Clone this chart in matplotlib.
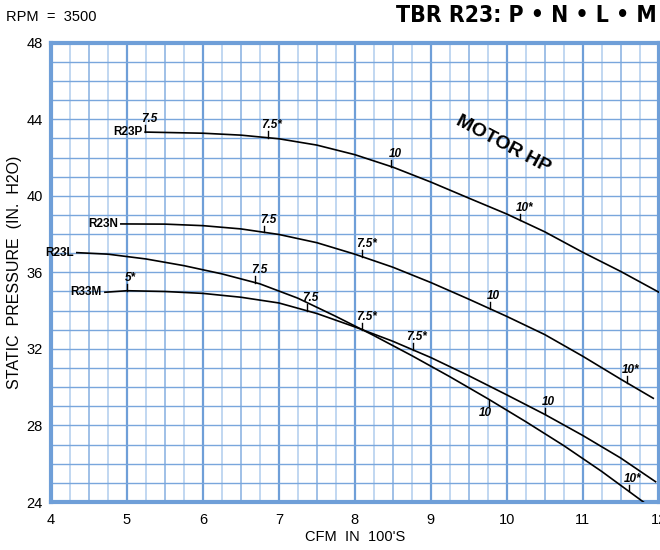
import matplotlib

matplotlib.use('Agg')
import matplotlib.pyplot as plt
import numpy as np

plt.rcParams['font.family'] = ['Liberation Sans', 'DejaVu Sans']

# fan curves (x = CFM in 100's, y = static pressure in. H2O)
p_x = [5.24, 6.0, 6.5, 7.0, 7.5, 8.0, 8.5, 9.0, 9.5, 10.0, 10.5, 11.0, 11.5, 12.0]
p_y = [43.33, 43.27, 43.17, 42.98, 42.65, 42.15, 41.5, 40.72, 39.88, 39.05, 38.12, 37.05, 36.05, 34.97]

n_x = [4.92, 5.5, 6.0, 6.5, 7.0, 7.5, 8.0, 8.5, 9.0, 9.5, 10.0, 10.5, 11.0, 11.5, 11.93]
n_y = [38.53, 38.52, 38.44, 38.27, 37.98, 37.55, 36.95, 36.27, 35.47, 34.6, 33.7, 32.75, 31.62, 30.42, 29.42]

l_x = [4.34, 4.75, 5.25, 5.75, 6.25, 6.75, 7.25, 7.75, 8.25, 8.75, 9.25, 9.75, 10.25, 10.75, 11.25, 11.8]
l_y = [37.03, 36.95, 36.7, 36.35, 35.92, 35.4, 34.65, 33.7, 32.7, 31.65, 30.55, 29.4, 28.2, 26.95, 25.6, 24.0]

m_x = [4.71, 5.0, 5.5, 6.0, 6.5, 7.0, 7.5, 8.0, 8.5, 9.0, 9.5, 10.0, 10.5, 11.0, 11.5, 11.96]
m_y = [34.96, 35.04, 35.0, 34.9, 34.7, 34.4, 33.85, 33.15, 32.4, 31.55, 30.6, 29.6, 28.58, 27.48, 26.3, 25.06]

curve_names = ["R23P", "R23N", "R23L", "R33M"]

# motor hp rating marks along each curve
p_marks = [(5.24, "7.5"), (6.86, "7.5*"), (8.48, "10"), (10.18, "10*")]
n_marks = [(6.81, "7.5"), (8.10, "7.5*"), (9.78, "10"), (11.58, "10*")]
l_marks = [(6.69, "7.5"), (8.10, "7.5*"), (9.77, "10"), (11.61, "10*")]
m_marks = [(5.0, "5*"), (7.37, "7.5"), (8.77, "7.5*"), (10.5, "10")]
below_marks = [("R23L", 9.77)]

x_ticks = [4, 5, 6, 7, 8, 9, 10, 11, 12]
y_ticks = [24, 28, 32, 36, 40, 44, 48]

grid_blue = '#6f9fd8'

fig = plt.figure(figsize=(6.6, 5.5), dpi=100)
ax = fig.add_axes([51 / 660, 1 - 502 / 550, 607.6 / 660, 459.3 / 550])
ax.set_xlim(4, 12)
ax.set_ylim(24, 48)

# graph paper grid
for xv in np.arange(4, 12.01, 0.25):
    if abs(xv - round(xv)) < 1e-6:
        ax.axvline(xv, color=grid_blue, lw=1.6, zorder=1)
    elif abs(xv * 2 - round(xv * 2)) < 1e-6:
        ax.axvline(xv, color='#8fb5e3', lw=1.2, zorder=1)
    else:
        ax.axvline(xv, color='#b0cdee', lw=1.1, zorder=1)
for yv in np.arange(24, 48.01, 1):
    ax.axhline(yv, color='#79a6dc', lw=1.0, zorder=1)

for sp in ax.spines.values():
    sp.set_color(grid_blue)
    sp.set_linewidth(3)

curves = [(p_x, p_y, p_marks), (n_x, n_y, n_marks), (l_x, l_y, l_marks), (m_x, m_y, m_marks)]
for name, (cx, cy, marks) in zip(curve_names, curves):
    ax.plot(cx, cy, color='black', lw=1.2, zorder=3)
    ax.text(cx[0] - 0.04, cy[0], name, ha='right', va='center',
            fontsize=8.5, fontweight='bold', zorder=4)
    for mx, mlab in marks:
        my = np.interp(mx, cx, cy)
        if (name, mx) in below_marks:
            ax.plot([mx, mx], [my, my - 0.35], color='black', lw=1.0, zorder=3)
            ax.text(mx - 0.05, my - 0.4, mlab, ha='center', va='top',
                    fontsize=8.5, fontweight='bold', style='italic', zorder=4)
        else:
            ax.plot([mx, mx], [my, my + 0.35], color='black', lw=1.0, zorder=3)
            ax.text(mx + 0.05, my + 0.35, mlab, ha='center', va='bottom',
                    fontsize=8.5, fontweight='bold', style='italic', zorder=4)

ax.text(9.95, 42.66, "MOTOR HP", rotation=-28, ha='center', va='center',
        fontsize=14, fontweight='bold', zorder=4)

ax.set_xticks(x_ticks)
ax.set_yticks(y_ticks)
ax.tick_params(axis='both', length=0, labelsize=10.5)
ax.tick_params(axis='x', pad=8)
ax.tick_params(axis='y', pad=6)
ax.set_xlabel("CFM  IN  100'S", fontsize=10.5, labelpad=2)
ax.set_ylabel("STATIC  PRESSURE  (IN.  H2O)", fontsize=11.5, labelpad=3)

fig.text(6 / 660, 1 - 17 / 550, "RPM  =  3500", ha='left', va='center', fontsize=10.5)
fig.text(657 / 660, 1 - 16 / 550, "TBR R23: P \u2022 N \u2022 L \u2022 M", ha='right', va='center',
         fontsize=16.5, fontweight='heavy', fontstretch='condensed', family=['DejaVu Sans'])

fig.savefig("out.png", dpi=100)
